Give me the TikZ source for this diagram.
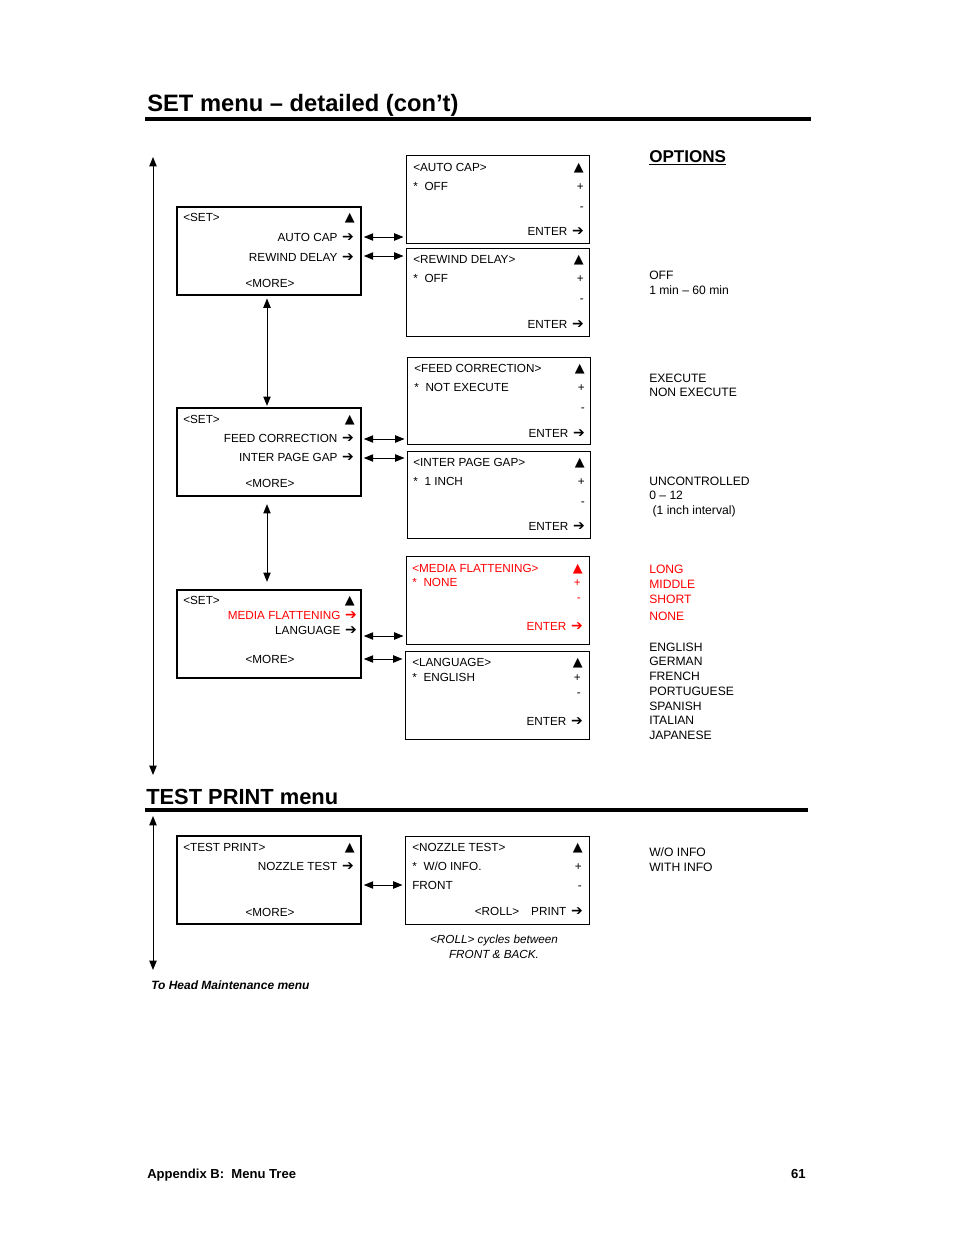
\documentclass[tikz,border=0pt]{standalone}
\usepackage{fontspec}
\setmainfont{Liberation Sans}
\newfontfamily\dv{DejaVu Sans}
\usetikzlibrary{arrows.meta,calc,fit}
\newcommand{\arr}{\hspace{1pt}{\dv\fontsize{10.5}{9}\selectfont ➔}}
\newcommand{\tri}{{\dv\fontsize{9.6}{9}\selectfont ▲}}
\begin{document}
\begin{tikzpicture}[x=0.75pt,y=-0.75pt,
  every node/.style={inner sep=0pt, font=\fontsize{8.8}{10.5}\selectfont, text height=6.3pt, text depth=0pt},
  L/.style={anchor=west}, R/.style={anchor=east},
  rd/.style={text=red},
  bigbox/.style={draw, line width=2.2pt, inner sep=0pt},
  smallbox/.style={draw, line width=0.7pt, inner sep=0pt},
  dbl/.style={{Triangle[length=7pt,width=5.5pt]}-{Triangle[length=7pt,width=5.5pt]}, line width=0.75pt},
  hd/.style={anchor=west, font=\fontsize{17.8}{20}\selectfont\bfseries, text height=12.6pt},
  opt/.style={anchor=west, font=\fontsize{9.1}{10.5}\selectfont}
]
\useasboundingbox (0,0) rectangle (954,1235);

% ---- headings
\node[hd] (title) at (147,103) {SET menu -- detailed (con’t)};
\draw[line width=2.3pt] (145,119) -- (811,119);
\node[anchor=west, font=\fontsize{12.8}{15}\selectfont\bfseries, text height=9.2pt] (options) at (649,156) {\underline{OPTIONS}};

% ---- long left arrows
\coordinate (t1) at (153,157);
\coordinate (b1) at (153,775);
\draw[dbl] (t1) -- (b1);

% ---- SET box 1
\node[bigbox, fit={(177,207)(361,295)}] (set1) {};
\node[L] (s1a) at (183,217) {<SET>};
\node[R] (s1t) at (355,217) {\tri};
\node[R] (s1b) at (354,237) {AUTO CAP \arr};
\node[R] (s1c) at (354,257) {REWIND DELAY \arr};
\node (s1d) at (270,283) {<MORE>};

% AUTO CAP box
\node[smallbox, fit={(406,155)(589,243)}] (ac) {};
\node[L] (ac1) at (413,167) {<AUTO CAP>};
\node[R] (ac2) at (584,167) {\tri};
\node[L] (ac3) at (413,186) {*\hspace{5pt}OFF};
\node[R] (ac4) at (584,186) {+};
\node[R] (ac5) at (584,206) {-};
\node[R] (ac6) at (584,231) {ENTER \arr};

% REWIND DELAY box
\node[smallbox, fit={(406,248)(589,336)}] (rd) {};
\node[L] (rd1) at (413,259) {<REWIND DELAY>};
\node[R] (rd2) at (584,259) {\tri};
\node[L] (rd3) at (413,278) {*\hspace{5pt}OFF};
\node[R] (rd4) at (584,278) {+};
\node[R] (rd5) at (584,298) {-};
\node[R] (rd6) at (584,324) {ENTER \arr};

\draw[dbl, shorten <=1pt, shorten >=1.5pt] (set1.east |- 0,237) -- (ac.west |- 0,237);
\draw[dbl, shorten <=1pt, shorten >=1.5pt] (set1.east |- 0,256) -- (rd.west |- 0,256);

% ---- SET box 2
\node[bigbox, fit={(177,408)(361,496)}] (set2) {};
\node[L] (s2a) at (183,419) {<SET>};
\node[R] (s2t) at (355,419) {\tri};
\node[R] (s2b) at (354,438) {FEED CORRECTION \arr};
\node[R] (s2c) at (354,457) {INTER PAGE GAP \arr};
\node (s2d) at (270,483) {<MORE>};

\draw[dbl, shorten <=1.5pt, shorten >=0.5pt] (set1.south -| 267,0) -- (set2.north -| 267,0);

% FEED CORRECTION box
\node[smallbox, fit={(407,357)(590,444)}] (fc) {};
\node[L] (fc1) at (414,368) {<FEED CORRECTION>};
\node[R] (fc2) at (585,368) {\tri};
\node[L] (fc3) at (414,387) {*\hspace{5pt}NOT EXECUTE};
\node[R] (fc4) at (585,387) {+};
\node[R] (fc5) at (585,407) {-};
\node[R] (fc6) at (585,433) {ENTER \arr};

% INTER PAGE GAP box
\node[smallbox, fit={(407,451)(590,538)}] (ig) {};
\node[L] (ig1) at (413,462) {<INTER PAGE GAP>};
\node[R] (ig2) at (585,462) {\tri};
\node[L] (ig3) at (413,481) {*\hspace{5pt}1 INCH};
\node[R] (ig4) at (585,481) {+};
\node[R] (ig5) at (585,501) {-};
\node[R] (ig6) at (585,526) {ENTER \arr};

\draw[dbl, shorten <=1pt, shorten >=1.5pt] (set2.east |- 0,439) -- (fc.west |- 0,439);
\draw[dbl, shorten <=1pt, shorten >=1.5pt] (set2.east |- 0,458) -- (ig.west |- 0,458);

% ---- SET box 3
\node[bigbox, fit={(177,590)(361,678)}] (set3) {};
\node[L] (s3a) at (183,600) {<SET>};
\node[R] (s3t) at (355,600) {\tri};
\node[R, rd] (s3b) at (357,615) {MEDIA FLATTENING \arr};
\node[R] (s3c) at (357,630) {LANGUAGE \arr};
\node (s3d) at (270,659) {<MORE>};

\draw[dbl, shorten <=5pt, shorten >=5pt] (set2.south -| 267,0) -- (set3.north -| 267,0);

% MEDIA FLATTENING box
\node[smallbox, fit={(406,556)(589,644)}] (mf) {};
\node[L, rd] (mf1) at (412,568) {<MEDIA FLATTENING>};
\node[R, rd] (mf2) at (583,568) {\tri};
\node[L, rd] (mf3) at (412,582) {*\hspace{5pt}NONE};
\node[R, rd] (mf4) at (581,582) {+};
\node[R, rd] (mf5) at (581,597) {-};
\node[R, rd] (mf6) at (583,626) {ENTER \arr};

% LANGUAGE box
\node[smallbox, fit={(405,651)(589,739)}] (lg) {};
\node[L] (lg1) at (412,662) {<LANGUAGE>};
\node[R] (lg2) at (583,662) {\tri};
\node[L] (lg3) at (412,677) {*\hspace{5pt}ENGLISH};
\node[R] (lg4) at (581,677) {+};
\node[R] (lg5) at (581,692) {-};
\node[R] (lg6) at (583,721) {ENTER \arr};

\draw[dbl, shorten <=1pt, shorten >=1.5pt] (set3.east |- 0,636) -- (mf.west |- 0,636);
\draw[dbl, shorten <=1pt, shorten >=1.5pt] (set3.east |- 0,659) -- (lg.west |- 0,659);

% ---- options column
\node[opt] (o1) at (649,275) {OFF};
\node[opt] (o2) at (649,290) {1 min -- 60 min};
\node[opt] (o3) at (649,378) {EXECUTE};
\node[opt] (o4) at (649,392) {NON EXECUTE};
\node[opt] (o5) at (649,481) {UNCONTROLLED};
\node[opt] (o6) at (649,495) {0 -- 12};
\node[opt] (o7) at (649,510) {\ (1 inch interval)};
\node[opt, rd] (o8) at (649,569) {LONG};
\node[opt, rd] (o9) at (649,584) {MIDDLE};
\node[opt, rd] (o10) at (649,599) {SHORT};
\node[opt, rd] (o11) at (649,616) {NONE};
\node[opt] (o12) at (649,647) {ENGLISH};
\node[opt] (o13) at (649,661) {GERMAN};
\node[opt] (o14) at (649,676) {FRENCH};
\node[opt] (o15) at (649,691) {PORTUGUESE};
\node[opt] (o16) at (649,706) {SPANISH};
\node[opt] (o17) at (649,720) {ITALIAN};
\node[opt] (o18) at (649,735) {JAPANESE};
\node[opt] (o19) at (649,852) {W/O INFO};
\node[opt] (o20) at (649,867) {WITH INFO};

% ---- TEST PRINT menu
\node[hd, font=\fontsize{16.4}{19}\selectfont\bfseries, text height=11.8pt] (title2) at (146,797) {TEST PRINT menu};
\draw[line width=2.3pt] (145,810) -- (808,810);

\coordinate (t2) at (153,816);
\coordinate (b2) at (153,970);
\draw[dbl] (t2) -- (b2);

\node[bigbox, fit={(177,836)(361,924)}] (tp) {};
\node[L] (tp1) at (183,847) {<TEST PRINT>};
\node[R] (tp2) at (355,847) {\tri};
\node[R] (tp3) at (354,866) {NOZZLE TEST \arr};
\node (tp4) at (270,912) {<MORE>};

\node[smallbox, fit={(405,836)(589,924)}] (nz) {};
\node[L] (nz1) at (412,847) {<NOZZLE TEST>};
\node[R] (nz2) at (583,847) {\tri};
\node[L] (nz3) at (412,866) {*\hspace{5pt}W/O INFO.};
\node[R] (nz4) at (582,866) {+};
\node[L] (nz5) at (412,885) {FRONT};
\node[R] (nz6) at (582,885) {-};
\node[R] (nz7) at (583,911) {<ROLL>\hspace{9pt}PRINT \arr};

\draw[dbl, shorten <=1pt, shorten >=1.5pt] (tp.east |- 0,885) -- (nz.west |- 0,885);

\node[font=\fontsize{8.8}{10.5}\selectfont\itshape] (n1) at (494,939) {<ROLL> cycles between};
\node[font=\fontsize{8.8}{10.5}\selectfont\itshape] (n2) at (494,954) {FRONT \& BACK.};

\node[anchor=west, font=\fontsize{9}{11}\selectfont\bfseries\itshape] (thm) at (151,985) {To Head Maintenance menu};

% ---- footer
\node[anchor=west, font=\fontsize{9.8}{12}\selectfont\bfseries, text height=7pt] (ft1) at (147,1174) {Appendix B:\ \ Menu Tree};
\node[anchor=east, font=\fontsize{9.8}{12}\selectfont\bfseries, text height=7pt] (ft2) at (806,1174) {61};
\end{tikzpicture}
\end{document}
